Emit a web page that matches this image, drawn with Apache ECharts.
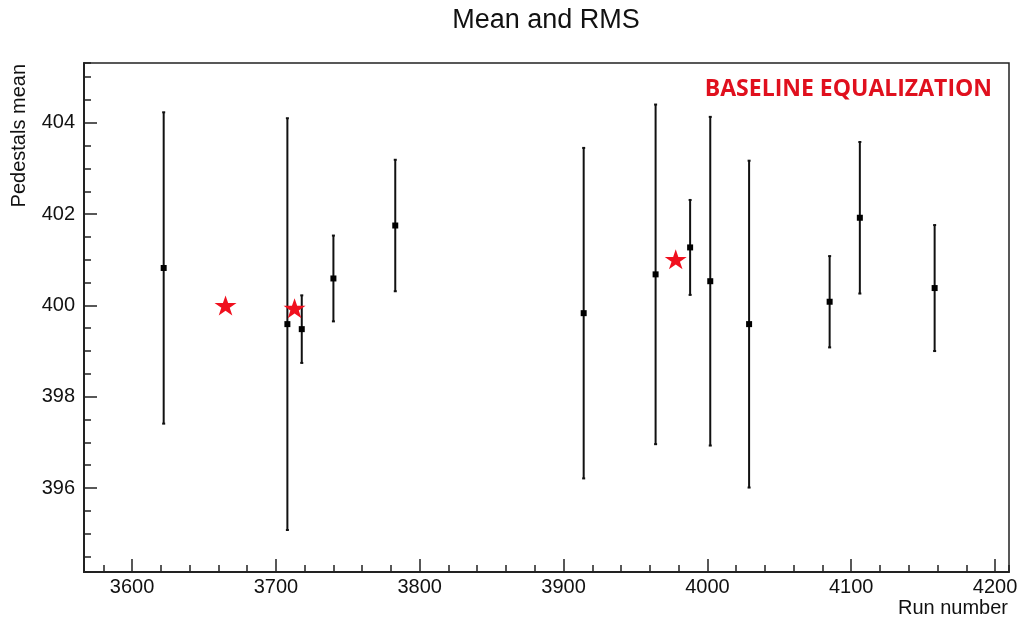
<!DOCTYPE html>
<html>
<head>
<meta charset="utf-8">
<script src="https://cdn.jsdelivr.net/npm/echarts@6/dist/echarts.min.js"></script>
<style>
  html, body { margin: 0; padding: 0; background: #fff; }
  #chart { width: 1021px; height: 621px; }
</style>
</head>
<body>
<div id="chart"></div>
<script>
// ---- data ----
var runs  = [3622, 3708, 3718, 3740, 3783, 3914, 3964, 3988, 4002, 4029, 4085, 4106, 4158];
var means = [400.82, 399.59, 399.48, 400.59, 401.75, 399.83, 400.68, 401.27, 400.53, 399.59, 400.08, 401.92, 400.38];
var rms   = [3.41, 4.51, 0.74, 0.94, 1.44, 3.62, 3.72, 1.04, 3.60, 3.58, 1.00, 1.66, 1.38];
var starRuns = [3665, 3713, 3978];
var starVals = [400.00, 399.94, 401.01];

var titleText = 'Mean and RMS';
var xName = 'Run number';
var yName = 'Pedestals mean';
var noteText = 'BASELINE EQUALIZATION';

var xMin = 3566.6, xMax = 4209.7;
var yMin = 394.16, yMax = 405.31;

// ---- build series data ----
var pointData = runs.map(function (r, i) { return [r, means[i]]; });
var barData = runs.map(function (r, i) { return [r, means[i] - rms[i], means[i] + rms[i]]; });
var starData = starRuns.map(function (r, i) { return [r, starVals[i]]; });

var starPath = 'path://M50 0 L61.23 34.55 L97.55 34.55 L68.17 55.9 L79.39 90.45 L50 69.1 L20.61 90.45 L31.83 55.9 L2.45 34.55 L38.77 34.55 Z';

var FONT = '"Liberation Sans", Arial, Helvetica, sans-serif';
var chart = echarts.init(document.getElementById('chart'), null, { renderer: 'canvas' });

function plain(v) { return String(Math.round(v)); }

var option = {
  backgroundColor: '#ffffff',
  animation: false,
  grid: {
    left: 84, right: 12, top: 63, bottom: 49,
    show: true, borderColor: '#222', borderWidth: 1.5, backgroundColor: 'transparent'
  },
  xAxis: [
    {
      type: 'value', min: xMin, max: xMax, splitNumber: 6, position: 'bottom',
      axisLine: { show: true, onZero: false, lineStyle: { color: '#222', width: 2 } },
      axisTick: { show: true, inside: true, length: 13, lineStyle: { color: '#222', width: 1.5 } },
      axisLabel: { show: true, showMinLabel: false, showMaxLabel: false, color: '#111', fontSize: 20, fontFamily: FONT, margin: 5, formatter: plain },
      splitLine: { show: false }
    },
    {
      type: 'value', min: xMin, max: xMax, splitNumber: 32, position: 'bottom',
      axisLine: { show: false, onZero: false },
      axisTick: { show: true, inside: true, length: 7, lineStyle: { color: '#222', width: 1.5 } },
      axisLabel: { show: false },
      splitLine: { show: false }
    }
  ],
  yAxis: [
    {
      type: 'value', min: yMin, max: yMax, splitNumber: 5, position: 'left',
      axisLine: { show: true, onZero: false, lineStyle: { color: '#222', width: 2 } },
      axisTick: { show: true, inside: true, length: 13, lineStyle: { color: '#222', width: 1.5 } },
      axisLabel: { show: true, showMinLabel: false, showMaxLabel: false, color: '#111', fontSize: 20, fontFamily: FONT, margin: 9, formatter: plain },
      splitLine: { show: false }
    },
    {
      type: 'value', min: yMin, max: yMax, splitNumber: 22, position: 'left',
      axisLine: { show: false, onZero: false },
      axisTick: { show: true, inside: true, length: 7, lineStyle: { color: '#222', width: 1.5 } },
      axisLabel: { show: false },
      splitLine: { show: false }
    }
  ],
  graphic: [
    {
      type: 'text', x: 546, y: 21,
      style: { text: titleText, fill: '#111', font: '27px ' + FONT, align: 'center', verticalAlign: 'middle' }
    },
    {
      type: 'text', x: 1008, y: 608,
      style: { text: xName, fill: '#111', font: '20px ' + FONT, align: 'right', verticalAlign: 'middle' }
    },
    {
      type: 'text', x: 19, y: 64, rotation: Math.PI / 2,
      style: { text: yName, fill: '#111', font: '20px ' + FONT, align: 'right', verticalAlign: 'middle' }
    },
    {
      type: 'text', x: 992, y: 89,
      style: { text: noteText, fill: '#e0101e', font: 'bold 23px "Open Sans", "Liberation Sans", sans-serif', align: 'right', verticalAlign: 'middle' }
    }
  ],
  series: [
    {
      type: 'custom', xAxisIndex: 0, yAxisIndex: 0,
      data: barData,
      renderItem: function (params, api) {
        var x = api.value(0);
        var lo = api.coord([x, api.value(1)]);
        var hi = api.coord([x, api.value(2)]);
        var style = { stroke: '#111', lineWidth: 2 };
        return {
          type: 'group',
          children: [
            { type: 'line', shape: { x1: lo[0], y1: lo[1], x2: hi[0], y2: hi[1] }, style: style },
            { type: 'line', shape: { x1: lo[0] - 1.5, y1: lo[1], x2: lo[0] + 1.5, y2: lo[1] }, style: style },
            { type: 'line', shape: { x1: hi[0] - 1.5, y1: hi[1], x2: hi[0] + 1.5, y2: hi[1] }, style: style }
          ]
        };
      },
      z: 2
    },
    {
      type: 'scatter', xAxisIndex: 0, yAxisIndex: 0,
      data: pointData,
      symbol: 'rect', symbolSize: 6,
      itemStyle: { color: '#000', opacity: 1 },
      z: 3
    },
    {
      type: 'scatter', xAxisIndex: 0, yAxisIndex: 0,
      data: starData,
      symbol: starPath, symbolSize: [22, 21], symbolKeepAspect: true,
      itemStyle: { color: '#f0101e', opacity: 1 },
      z: 4
    }
  ]
};
chart.setOption(option);
</script>
</body>
</html>
